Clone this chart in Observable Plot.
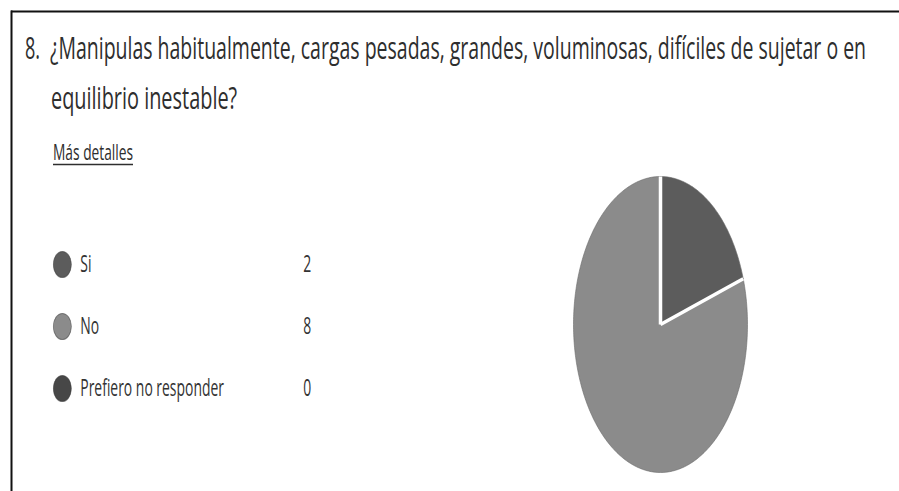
<!DOCTYPE html>
<html>
<head>
<meta charset="utf-8">
<script src="https://cdn.jsdelivr.net/npm/d3@7"></script>
<script src="https://cdn.jsdelivr.net/npm/@observablehq/plot@0.6"></script>
<style>
  html, body { margin: 0; padding: 0; background: #fff; }
  #root { position: relative; width: 899px; height: 491px; overflow: hidden; background: #fff; font-family: "Open Sans", sans-serif; }
  #deco { position: absolute; left: 0; top: 0; }
  #legend { position: absolute; left: 40px; top: 230px; transform: scaleX(0.58); transform-origin: 0 0; }
  #pie { position: absolute; left: 560px; top: 170px; }
</style>
</head>
<body>
<div id="root">
  <svg id="deco" width="899" height="491" font-family="'Open Sans', sans-serif">
    <line x1="11" y1="11.5" x2="899" y2="11.5" stroke="#111" stroke-width="2"/>
    <line x1="11.5" y1="10.5" x2="11.5" y2="491" stroke="#111" stroke-width="2"/>
    <g transform="translate(25,59) scale(0.58,1)">
      <text x="0" y="0" font-size="31" fill="#2e2e2e" textLength="26" lengthAdjust="spacingAndGlyphs">8.</text>
    </g>
    <g transform="translate(50,59) scale(0.58,1)">
      <text x="0" y="0" font-size="31" fill="#2e2e2e" textLength="1407" lengthAdjust="spacingAndGlyphs">¿Manipulas habitualmente, cargas pesadas, grandes, voluminosas, difíciles de sujetar o en</text>
    </g>
    <g transform="translate(51,109) scale(0.58,1)">
      <text x="0" y="0" font-size="31" fill="#2e2e2e" textLength="321" lengthAdjust="spacingAndGlyphs">equilibrio inestable?</text>
    </g>
    <g transform="translate(53,160) scale(0.58,1)">
      <text x="0" y="0" font-size="21" fill="#2e2e2e" textLength="138" lengthAdjust="spacingAndGlyphs">Más detalles</text>
    </g>
    <line x1="53" y1="164.5" x2="133" y2="164.5" stroke="#2e2e2e" stroke-width="1.3"/>
  </svg>
  <div id="legend"></div>
  <div id="pie"></div>
</div>
<script>
// ---- data ----
const categories = ["Si", "No", "Prefiero no responder"];
const counts = [2, 8, 0];
const colors = ["#5c5c5c", "#8b8b8b", "#474747"];

const data = categories.map((label, i) => ({label, count: counts[i]}));

// ellipse symbol (legend dots appear as tall ovals in the reference)
const ovalSymbol = {
  draw(ctx, size) {
    const r = Math.sqrt(size / Math.PI);
    const rx = r * 1.2, ry = r, k = 0.5523;
    ctx.moveTo(0, -ry);
    ctx.bezierCurveTo(k * rx, -ry, rx, -k * ry, rx, 0);
    ctx.bezierCurveTo(rx, k * ry, k * rx, ry, 0, ry);
    ctx.bezierCurveTo(-k * rx, ry, -rx, k * ry, -rx, 0);
    ctx.bezierCurveTo(-rx, -k * ry, -k * rx, -ry, 0, -ry);
    ctx.closePath();
  }
};

// ---- legend ----
const legend = Plot.plot({
  width: 480,
  height: 190,
  margin: 0,
  style: {fontFamily: "'Open Sans', sans-serif", background: "transparent", overflow: "visible"},
  y: {type: "point", padding: 0, domain: categories, range: [34, 158], axis: null},
  color: {domain: categories, range: colors},
  marks: [
    Plot.dot(data, {y: "label", frameAnchor: "left", dx: 38, r: 13, symbol: ovalSymbol,
      fill: "label", stroke: "#333", strokeOpacity: 0.55, strokeWidth: 1.2}),
    Plot.text(data, {y: "label", text: "label", frameAnchor: "left", dx: 69, textAnchor: "start",
      fontSize: 24, fill: "#333"}),
    Plot.text(data, {y: "label", text: d => String(d.count), frameAnchor: "right", dx: -13, textAnchor: "end",
      fontSize: 24, fill: "#333"})
  ]
});
document.getElementById("legend").appendChild(legend);

// ---- pie (elliptical, as in the reference) ----
const arcs = d3.pie().sort(null).value(d => d.count)(data).filter(a => a.value > 0);
const slicePts = [];
for (const a of arcs) {
  slicePts.push({label: a.data.label, x: 0, y: 0});
  const n = Math.max(2, Math.ceil((a.endAngle - a.startAngle) / (Math.PI / 180)));
  for (let j = 0; j <= n; j++) {
    const t = a.startAngle + (a.endAngle - a.startAngle) * j / n;
    slicePts.push({label: a.data.label, x: Math.sin(t), y: Math.cos(t)});
  }
}
const separators = arcs.map(a => ({x1: 0, y1: 0, x2: Math.sin(a.startAngle), y2: Math.cos(a.startAngle)}));

const pie = Plot.plot({
  width: 200,
  height: 310,
  margin: 0,
  style: {background: "transparent", overflow: "visible"},
  x: {domain: [-1, 1], range: [13, 187], axis: null},
  y: {domain: [-1, 1], range: [302, 6], axis: null},
  color: {domain: categories, range: colors},
  marks: [
    Plot.line(slicePts, {x: "x", y: "y", z: "label", fill: "label", stroke: "#6a6a6a", strokeWidth: 1,
      strokeOpacity: 0.6, curve: "linear-closed"}),
    Plot.link(separators, {x1: "x1", y1: "y1", x2: "x2", y2: "y2", stroke: "white", strokeWidth: 3.5})
  ]
});
document.getElementById("pie").appendChild(pie);
</script>
</body>
</html>
